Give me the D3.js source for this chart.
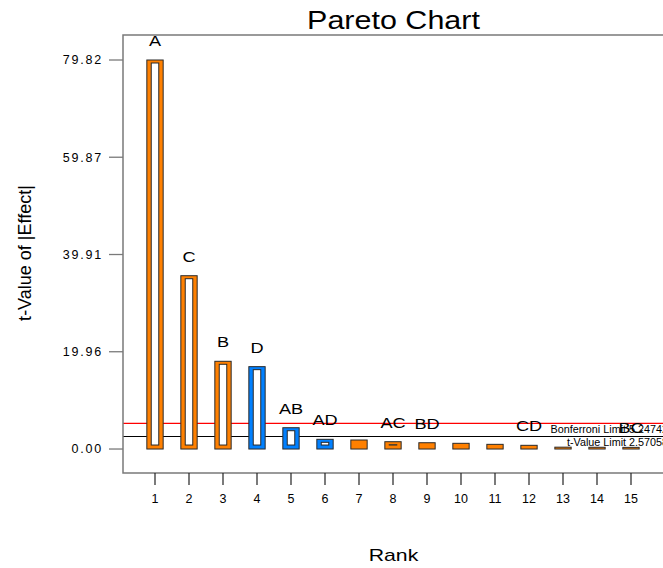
<!DOCTYPE html>
<html>
<head>
<meta charset="utf-8">
<script src="https://cdn.jsdelivr.net/npm/d3@7"></script>
<style>
  html, body { margin: 0; padding: 0; background: #fff; }
  svg { display: block; font-family: "Liberation Sans", Arial, sans-serif; }
</style>
</head>
<body>
<svg id="chart" width="663" height="568"></svg>
<script>
// ---- data ----
const ranks = [1, 2, 3, 4, 5, 6, 7, 8, 9, 10, 11, 12, 13, 14, 15];
const effects = ["A", "C", "B", "D", "AB", "AD", "", "AC", "BD", "", "", "CD", "", "", "BC"];
const tValues = [79.82, 35.56, 18.0, 16.9, 4.37, 1.99, 1.85, 1.50, 1.29, 1.17, 0.96, 0.76, 0.38, 0.36, 0.34];
const signs = ["+", "+", "+", "-", "-", "-", "+", "+", "+", "+", "+", "+", "+", "+", "+"];
const hollow = [1, 1, 1, 1, 1, 1, 0, 1, 1, 0, 0, 0, 0, 0, 0];
const yTicks = [0.00, 19.96, 39.91, 59.87, 79.82];
const xTicks = ranks;
const limitNames = ["Bonferroni Limit 5.24742", "t-Value Limit 2.57058"];
const limitValues = [5.24742, 2.57058];

(function () {
// ---- layout ----
const svg = d3.select("#chart");
const pL = 123, pT = 35, pB = 473, pR = 666;
const x = d3.scaleLinear().domain([0, 16]).range([121, 665]);
const y = d3.scaleLinear().domain([-4.92, 84.95]).range([pB, pT]);
const barW = 0.48 * (x(1) - x(0));
const orange = "#FF8000", blue = "#0080FF";

function stretchText(sel, px, py, sx) {
  sel.attr("x", 0).attr("y", 0)
     .attr("transform", `translate(${px},${py}) scale(${sx},1)`);
  return sel;
}

// limit lines
const limitColors = ["#FF0000", "#000000"];
limitValues.forEach((v, i) => {
  svg.append("line")
    .attr("x1", pL).attr("x2", pR)
    .attr("y1", y(v)).attr("y2", y(v))
    .attr("stroke", limitColors[i]).attr("stroke-width", 1.2);
});

// bars
const bars = svg.append("g");
ranks.forEach((r, i) => {
  const v = tValues[i];
  const x0 = x(r) - barW / 2;
  const y0 = y(v), y1 = y(0);
  const h = y1 - y0;
  bars.append("rect")
    .attr("x", x0).attr("y", y0)
    .attr("width", barW).attr("height", h)
    .attr("fill", signs[i] === "+" ? orange : blue)
    .attr("stroke", "#2a2a2a").attr("stroke-width", 1);
  if (hollow[i]) {
    const ih = Math.max(0, h - 7);
    bars.append("rect")
      .attr("x", x0 + 4.4).attr("y", y0 + 3)
      .attr("width", barW - 8.8).attr("height", ih)
      .attr("fill", "#fff")
      .attr("stroke", "#2a2a2a").attr("stroke-width", 1);
  }
});

// limit labels
limitValues.forEach((v, i) => {
  stretchText(svg.append("text"), 668, y(v) + 9.5, 1.08)
    .attr("text-anchor", "end")
    .attr("font-size", 10)
    .attr("fill", "#000")
    .text(limitNames[i]);
});

// bar labels
ranks.forEach((r, i) => {
  if (!effects[i]) return;
  stretchText(svg.append("text"), x(r), y(tValues[i]) - 14, 1.25)
    .attr("text-anchor", "middle")
    .attr("font-size", 14.5)
    .attr("fill", "#000")
    .text(effects[i]);
});

// frame
const frameColor = "#7a7a7a";
svg.append("path")
  .attr("d", `M${pR},${pT}H${pL}V${pB}H${pR}`)
  .attr("fill", "none").attr("stroke", frameColor).attr("stroke-width", 1.5);

// y axis ticks
yTicks.forEach(t => {
  svg.append("line")
    .attr("x1", 109).attr("x2", pL)
    .attr("y1", y(t)).attr("y2", y(t))
    .attr("stroke", frameColor).attr("stroke-width", 1.3);
  svg.append("text")
    .attr("x", 103).attr("y", y(t))
    .attr("dy", "0.35em")
    .attr("text-anchor", "end")
    .attr("font-size", 12.5)
    .attr("letter-spacing", 1.8)
    .attr("fill", "#000")
    .text(t.toFixed(2));
});

// x axis ticks
xTicks.forEach(t => {
  svg.append("line")
    .attr("x1", x(t)).attr("x2", x(t))
    .attr("y1", pB).attr("y2", 485)
    .attr("stroke", "#222").attr("stroke-width", 1.2);
  svg.append("text")
    .attr("x", x(t)).attr("y", 503)
    .attr("text-anchor", "middle")
    .attr("font-size", 12.5)
    .attr("fill", "#000")
    .text(t);
});

// titles
stretchText(svg.append("text"), 393.5, 29, 1.22)
  .attr("text-anchor", "middle").attr("font-size", 25).attr("fill", "#000")
  .text("Pareto Chart");

stretchText(svg.append("text"), 393.5, 561, 1.25)
  .attr("text-anchor", "middle").attr("font-size", 17).attr("fill", "#000")
  .text("Rank");

svg.append("text")
  .attr("transform", `translate(31,253) rotate(-90)`)
  .attr("text-anchor", "middle").attr("font-size", 18).attr("fill", "#000")
  .text("t-Value of |Effect|");
})();
</script>
</body>
</html>
